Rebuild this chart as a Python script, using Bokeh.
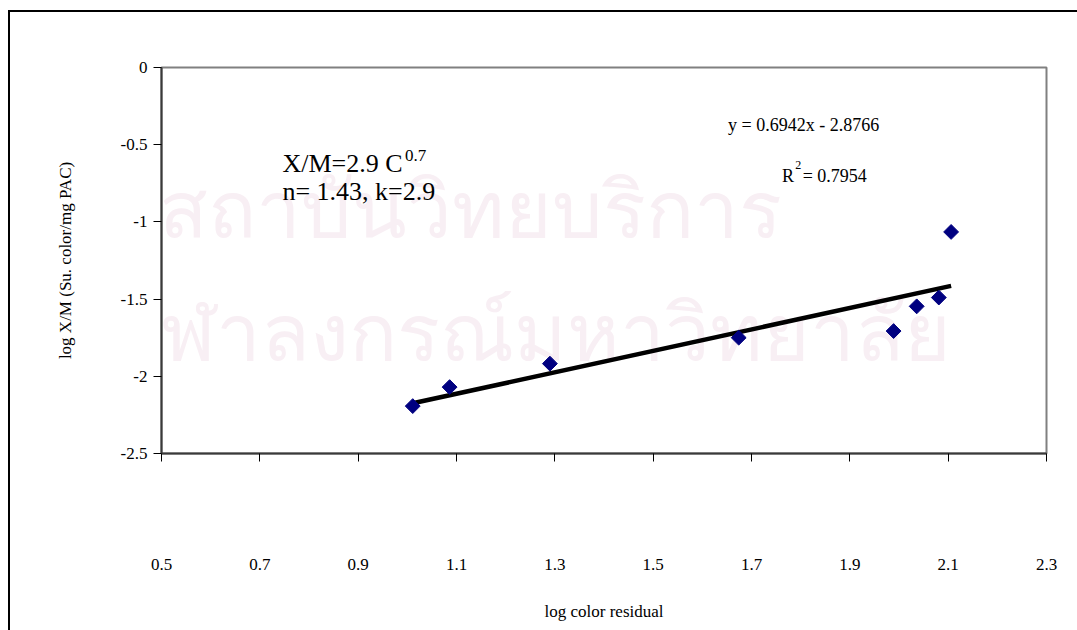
import math

from bokeh.embed import file_html
from bokeh.resources import INLINE
from bokeh.plotting import figure
from bokeh.models import Range1d, FixedTicker, Label

# Freundlich isotherm: log X/M against log residual colour
log_c = [1.011, 1.086, 1.290, 1.674, 1.989, 2.036, 2.081, 2.106]
log_xm = [-2.193, -2.070, -1.918, -1.750, -1.707, -1.547, -1.490, -1.065]

# linear trend line as reported
slope = 0.6942
intercept = -2.8766
r_squared = 0.7954

x_ticks = [0.5, 0.7, 0.9, 1.1, 1.3, 1.5, 1.7, 1.9, 2.1, 2.3]
x_tick_labels = ["0.5", "0.7", "0.9", "1.1", "1.3", "1.5", "1.7", "1.9", "2.1", "2.3"]
y_ticks = [0, -0.5, -1, -1.5, -2, -2.5]
y_tick_labels = ["0", "-0.5", "-1", "-1.5", "-2", "-2.5"]

x_title = "log color residual"
y_title = "log X/M (Su. color/mg PAC)"
watermark = ["สถาบันวิทยบริการ", "จุฬาลงกรณ์มหาวิทยาลัย"]

SERIF = "Liberation Serif"

# the canvas runs past the right and bottom page edges, like the
# surrounding chart box, so only its left and top edges are seen
p = figure(
    width=1075, height=622,
    x_range=Range1d(0.5, 2.3), y_range=Range1d(-2.5, 0),
    output_backend="svg", toolbar_location=None,
    min_border_left=151, min_border_right=39,
    min_border_top=55, min_border_bottom=181,
)
p.margin = (12, 0, 0, 10)
# chart box edge: a hard shadow showing on the left and top sides only
p.styles = {"box-shadow": "-2px -2px 0 0 black"}

p.background_fill_color = "white"
p.border_fill_color = "white"
p.grid.visible = False
p.outline_line_color = "#808080"
p.outline_line_width = 2

# faint watermark behind the chart
for txt, wx, wy in [(watermark[0], 1.128, -0.90), (watermark[1], 1.255, -1.70)]:
    p.add_layout(Label(x=wx, y=wy, text=txt, text_font="Noto Sans",
                       text_font_size="80px", text_color="#f8eff4",
                       text_align="center", text_baseline="middle",
                       level="underlay"))

for ax in (p.xaxis[0], p.yaxis[0]):
    ax.axis_line_color = "#3a3a3a"
    ax.axis_line_width = 2
    ax.major_tick_line_color = "black"
    ax.major_tick_line_width = 1
    ax.major_tick_in = 0
    ax.major_tick_out = 8
    ax.minor_tick_line_color = None
    ax.major_label_text_font = SERIF
    ax.major_label_text_font_size = "17px"
    ax.major_label_text_color = "black"
    ax.axis_label_text_font = SERIF
    ax.axis_label_text_font_size = "17px"
    ax.axis_label_text_font_style = "normal"
    ax.axis_label_text_color = "black"

p.xaxis.ticker = FixedTicker(ticks=x_ticks)
p.xaxis.major_label_overrides = dict(zip(x_ticks, x_tick_labels))
p.xaxis.major_label_standoff = 97
p.xaxis.axis_label = x_title
p.xaxis.axis_label_standoff = 29

p.yaxis.ticker = FixedTicker(ticks=y_ticks)
p.yaxis.major_label_overrides = dict(zip(y_ticks, y_tick_labels))
p.yaxis.major_label_standoff = 6
p.yaxis.axis_label = y_title
p.yaxis.axis_label_standoff = 43

# trend line across the measured range
x0, x1 = min(log_c), max(log_c)
p.line([x0, x1], [slope * x0 + intercept, slope * x1 + intercept],
       line_color="black", line_width=4.5)

p.scatter(log_c, log_xm, marker="square", size=10.5, angle=math.pi / 4,
          fill_color="#000080", line_color="#000080")

def note(x, y, text, size, align="left"):
    p.add_layout(Label(x=x, y=y, text=text, text_font=SERIF,
                       text_font_size=size, text_color="black",
                       text_align=align, text_baseline="middle"))

# Freundlich parameters
note(0.746, -0.620, "X/M=2.9 C", "26px")
note(0.995, -0.570, "0.7", "17px")
note(0.746, -0.800, "n= 1.43, k=2.9", "26px")

# regression annotation
note(1.806, -0.375, f"y = {slope}x - {abs(intercept)}", "18px", align="center")
note(1.762, -0.700, "R", "18px")
note(1.789, -0.630, "2", "12px")
note(1.804, -0.700, f" = {r_squared}", "18px")

html = file_html(p, INLINE)
# keep the oversized canvas from adding page scrollbars
html = html.replace("</head>", "<style>html, body { overflow: hidden; }</style></head>", 1)
open("out.html", "w").write(html)
